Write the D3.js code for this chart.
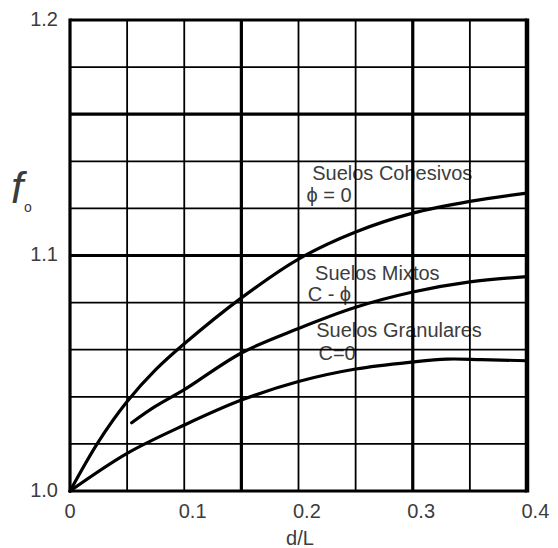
<!DOCTYPE html>
<html>
<head>
<meta charset="utf-8">
<script src="https://cdn.jsdelivr.net/npm/d3@7"></script>
<style>
  html, body { margin: 0; padding: 0; background: #fff; }
  svg { display: block; }
  text { font-family: "Liberation Sans", Arial, sans-serif; fill: #3c3c3c; }
</style>
</head>
<body>
<svg id="chart" width="558" height="548"></svg>
<script>
// ---- data ----
const xTickLabels = [0, 0.1, 0.2, 0.3, 0.4];
const yTickLabels = [1.0, 1.1, 1.2];
const xGrid = [0.05, 0.1, 0.15, 0.2, 0.25, 0.3, 0.35];
const yGrid = [1.02, 1.04, 1.06, 1.08, 1.1, 1.12, 1.14, 1.16, 1.18];
const xGridThick = [0.15, 0.3];
const yGridThick = [1.1, 1.16];

const cohesivosX = [0, 0.025, 0.05, 0.075, 0.1, 0.15, 0.2, 0.25, 0.3, 0.35, 0.4];
const cohesivosY = [1.0, 1.021, 1.038, 1.0515, 1.0625, 1.082, 1.0985, 1.11, 1.118, 1.123, 1.1265];
const mixtosX = [0.054, 0.075, 0.1, 0.15, 0.2, 0.25, 0.3, 0.35, 0.4];
const mixtosY = [1.029, 1.036, 1.043, 1.0586, 1.069, 1.078, 1.0845, 1.0888, 1.091];
const granularesX = [0, 0.05, 0.1, 0.15, 0.2, 0.25, 0.3, 0.33, 0.36, 0.4];
const granularesY = [1.0, 1.016, 1.028, 1.0386, 1.0465, 1.0518, 1.0548, 1.056, 1.0558, 1.0553];

const labels = [
  { text: "Suelos Cohesivos", x: 0.212, y: 1.1322 },
  { text: "\u03D5 = 0", x: 0.207, y: 1.1228 },
  { text: "Suelos Mixtos", x: 0.2145, y: 1.0895 },
  { text: "C - \u03D5", x: 0.208, y: 1.0808 },
  { text: "Suelos Granulares", x: 0.2155, y: 1.0654 },
  { text: "C=0", x: 0.2175, y: 1.0555 }
];

// ---- chart ----
const svg = d3.select("#chart");
const x = d3.scaleLinear().domain([0, 0.4]).range([70, 527]);
const y = d3.scaleLinear().domain([1.0, 1.2]).range([491, 20]);

// annotations (under the grid, as in the reference)
svg.append("g").selectAll("text").data(labels).join("text")
  .attr("x", d => x(d.x)).attr("y", d => y(d.y))
  .attr("font-size", 20)
  .text(d => d.text);

// grid
const grid = svg.append("g").attr("stroke", "#000");
grid.selectAll("line.vx").data(xGrid).join("line")
  .attr("x1", d => x(d)).attr("x2", d => x(d))
  .attr("y1", y(1.0)).attr("y2", y(1.2))
  .attr("stroke-width", d => xGridThick.includes(d) ? 3.2 : 1.8);
grid.selectAll("line.hy").data(yGrid).join("line")
  .attr("y1", d => y(d)).attr("y2", d => y(d))
  .attr("x1", x(0)).attr("x2", x(0.4))
  .attr("stroke-width", d => yGridThick.includes(d) ? 3.2 : 1.8);
// borders
grid.append("line").attr("x1", x(0)).attr("x2", x(0)).attr("y1", y(1.0) + 1.5).attr("y2", y(1.2) - 1.5).attr("stroke-width", 3.2);
grid.append("line").attr("x1", x(0.4)).attr("x2", x(0.4)).attr("y1", y(1.0) + 1.5).attr("y2", y(1.2) - 1.5).attr("stroke-width", 4.5);
grid.append("line").attr("x1", x(0)).attr("x2", x(0.4)).attr("y1", y(1.2)).attr("y2", y(1.2)).attr("stroke-width", 3.2);
grid.append("line").attr("x1", x(0)).attr("x2", x(0.4)).attr("y1", y(1.0)).attr("y2", y(1.0)).attr("stroke-width", 3.2);

// curves
const line = d3.line().x(d => x(d[0])).y(d => y(d[1])).curve(d3.curveCatmullRom.alpha(0.5));
const series = [
  d3.zip(cohesivosX, cohesivosY),
  d3.zip(mixtosX, mixtosY),
  d3.zip(granularesX, granularesY)
];
svg.append("g").selectAll("path").data(series).join("path")
  .attr("d", line)
  .attr("fill", "none")
  .attr("stroke", "#000")
  .attr("stroke-width", 3.2)
  .attr("stroke-linecap", "round");

// x axis labels
const xAxis = svg.append("g").attr("transform", `translate(0,${y(1.0)})`)
  .call(d3.axisBottom(x).tickValues(xTickLabels).tickSize(0).tickFormat(d => d === 0 ? "0" : d3.format(".1f")(d)));
xAxis.select(".domain").remove();
xAxis.selectAll("text")
  .attr("text-anchor", "start").attr("dx", -6).attr("y", 13)
  .attr("font-size", 20).attr("font-family", "Liberation Sans, Arial, sans-serif").attr("fill", "#3c3c3c");

// y axis labels
const yAxis = svg.append("g").attr("transform", `translate(${x(0)},0)`)
  .call(d3.axisLeft(y).tickValues(yTickLabels).tickSize(0).tickFormat(d3.format(".1f")));
yAxis.select(".domain").remove();
yAxis.selectAll("text")
  .attr("x", -12).attr("dy", "0.32em").attr("y", -1)
  .attr("font-size", 20).attr("font-family", "Liberation Sans, Arial, sans-serif").attr("fill", "#3c3c3c");

// axis titles
svg.append("text").attr("x", 300).attr("y", 545).attr("text-anchor", "middle")
  .attr("font-size", 20).text("d/L");
svg.append("text").attr("x", 11).attr("y", 203)
  .attr("font-family", "Liberation Serif, serif").attr("font-style", "italic")
  .attr("font-size", 44).attr("fill", "#222").text("f");
svg.append("text").attr("x", 24).attr("y", 212)
  .attr("font-size", 14).attr("fill", "#222").text("o");
</script>
</body>
</html>
